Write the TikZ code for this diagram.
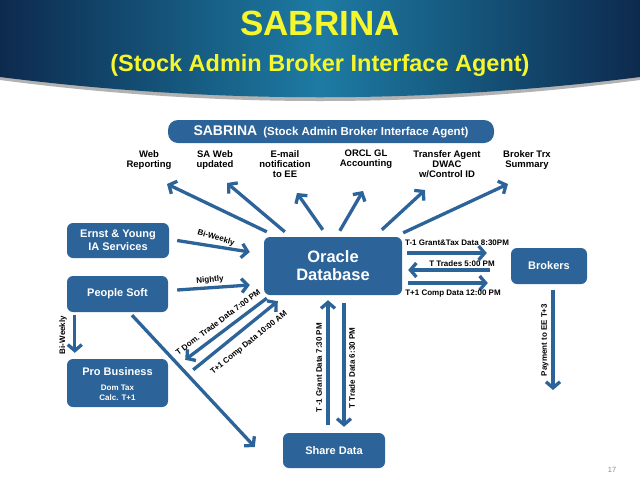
\documentclass[tikz,border=0pt]{standalone}
\usepackage{fontspec}
\setmainfont{Liberation Sans}
\usetikzlibrary{arrows.meta,calc}
\definecolor{sbblue}{HTML}{2C6399}
\definecolor{navy}{HTML}{0D2A4E}
\definecolor{teal2}{HTML}{1D7BA3}
\definecolor{ttlyellow}{HTML}{F6F62C}
\begin{document}
\begin{tikzpicture}[x=1pt,y=-1pt,
  box/.style={fill=sbblue, rounded corners=6pt, text=white, font=\bfseries\fontsize{11}{13}\selectfont, align=center, inner sep=0pt},
  arr/.style={draw=sbblue, line width=3.3pt, -{Straight Barb[length=6pt,width=14pt]}},
  lbl/.style={font=\bfseries\fontsize{9.5}{10}\selectfont, align=center, anchor=north, inner sep=0pt},
  albl/.style={font=\bfseries\fontsize{8}{9}\selectfont, inner sep=0pt},
  ttl/.style={font=\bfseries, anchor=base, inner sep=0pt, text=ttlyellow}]
\useasboundingbox (0,0) rectangle (640,480);
\fill[white] (0,0) rectangle (640,480);
% banner
\fill[black!30] (0,70) -- (640,70) -- (640,80) .. controls (427,108) and (213,108) .. (0,80) -- cycle;
\shade[left color=navy, right color=navy, middle color=teal2] (0,0) -- (640,0) -- (640,77) .. controls (427,104) and (213,104) .. (0,77) -- cycle;
\node[ttl, font=\bfseries\fontsize{35}{35}\selectfont] (t1) at (320,35) {SABRINA};
\node[ttl, font=\bfseries\fontsize{23.5}{24}\selectfont] (t2) at (320,71) {(Stock Admin Broker Interface Agent)};
% boxes
\node[box, rounded corners=10pt, minimum width=326pt, minimum height=23pt] (sab) at (331,131.5)
  {\fontsize{14}{14}\selectfont SABRINA\hspace{6pt}\fontsize{11.5}{12}\selectfont (Stock Admin Broker Interface Agent)};
\node[box, minimum width=138pt, minimum height=58pt, font=\bfseries\fontsize{16.5}{18}\selectfont] (ora) at (333,266) {Oracle\\Database};
\node[box, minimum width=102pt, minimum height=35pt] (ey) at (118,240.5) {Ernst \& Young\\IA Services};
\node[box, minimum width=101pt, minimum height=36pt] (ps) at (117.5,294) {People Soft};
\node[box, minimum width=101pt, minimum height=48pt] (pb) at (117.5,383) {};
\node[text=white, font=\bfseries\fontsize{11}{13}\selectfont, inner sep=0pt] (pbt) at (117.5,372) {Pro Business};
\node[text=white, font=\bfseries\fontsize{8}{9.5}\selectfont, align=center, inner sep=0pt] (pbs) at (117.5,393) {Dom Tax\\Calc. T+1};
\node[box, minimum width=76pt, minimum height=36pt] (brk) at (549,266) {Brokers};
\node[box, minimum width=102pt, minimum height=35pt] (shr) at (334,450.5) {Share Data};
% top labels
\node[lbl] (web) at (149,150) {Web\\Reporting};
\node[lbl] (saw) at (215,150) {SA Web\\updated};
\node[lbl] (eml) at (285,150) {E-mail\\notification\\to EE};
\node[lbl] (orc) at (366,150) {ORCL GL\\Accounting};
\node[lbl] (tra) at (447,150) {Transfer Agent\\DWAC\\w/Control ID};
\node[lbl] (btx) at (527,150) {Broker Trx\\Summary};
% fan arrows
\coordinate (e1) at (167,184);
\coordinate (e2) at (227,183);
\coordinate (e3) at (297,193);
\coordinate (e4) at (363,191);
\coordinate (e5) at (425,190);
\coordinate (e6) at (508,184);
\draw[arr] ($(ora.north west)+(3,-5)$) -- (e1);
\draw[arr] ($(ora.north west)+(21,-5)$) -- (e2);
\draw[arr] ($(ora.north west)+(59,-7)$) -- (e3);
\draw[arr] ($(ora.north west)+(76,-6)$) -- (e4);
\draw[arr] ($(ora.north west)+(118,-7)$) -- (e5);
\draw[arr] ($(ora.north east)+(1,-4)$) -- (e6);
% left arrows
\draw[arr] ($(ey.east)+(8,0)$) -- ($(ora.west)+(-14,-14)$);
\draw[arr] ($(ps.east)+(9,-4)$) -- ($(ora.west)+(-14,19)$);
\draw[arr] ($(ora.south west)+(3,3)$) -- ($(pb.north east)+(17,1)$);
\draw[arr] ($(pb.north east)+(25,11)$) -- ($(ora.south west)+(14,6)$);
\draw[arr] ($(ps.south)+(14.5,3)$) -- ($(shr.west)+(-28,-3.5)$);
\draw[arr] ($(ps.south west)+(8,3)$) -- ($(pb.north west)+(8,-6)$);
% share data arrows
\draw[arr] ($(shr.north)+(-6,-8)$) -- ($(ora.south)+(-5,5)$);
\draw[arr] ($(ora.south)+(11,8)$) -- ($(shr.north)+(10,-6)$);
% brokers arrows
\draw[arr] ($(ora.east)+(5,-13)$) -- ($(brk.west)+(-24,-13)$);
\draw[arr] ($(brk.west)+(-21,4)$) -- ($(ora.east)+(6,4)$);
\draw[arr] ($(ora.east)+(6,17)$) -- ($(brk.west)+(-23,17)$);
\coordinate (pay) at (553,390);
\draw[arr] ($(brk.south)+(4,6)$) -- (pay);
% arrow labels
\node[albl, rotate=-16] (lbw) at (216,238) {Bi-Weekly};
\node[albl, rotate=5] (lni) at (210,280) {Nightly};
\node[albl, rotate=37] (ldt) at (218,322) {T Dom. Trade Data 7:00 PM};
\node[albl, rotate=39] (lcd) at (249,343) {T+1 Comp Data 10:00 AM};
\node[albl, rotate=90] (lbw2) at (63,335) {Bi-Weekly};
\node[albl, rotate=90] (lgd) at (319,368) {T -1 Grant Data 7:30 PM};
\node[albl, rotate=90] (ltd) at (352,368) {T Trade Data 6:30 PM};
\node[albl, rotate=90] (lpay) at (545,340) {Payment to EE T+3};
\node[albl] (lgt) at (457,243) {T-1 Grant\&Tax Data 8:30PM};
\node[albl] (ltt) at (462,264) {T Trades 5:00 PM};
\node[albl] (ltc) at (453,294) {T+1 Comp Data 12:00 PM};
\node[font=\fontsize{7.5}{8}\selectfont, text=black!45, inner sep=0pt] (pg) at (612,470) {17};
\end{tikzpicture}
\end{document}
